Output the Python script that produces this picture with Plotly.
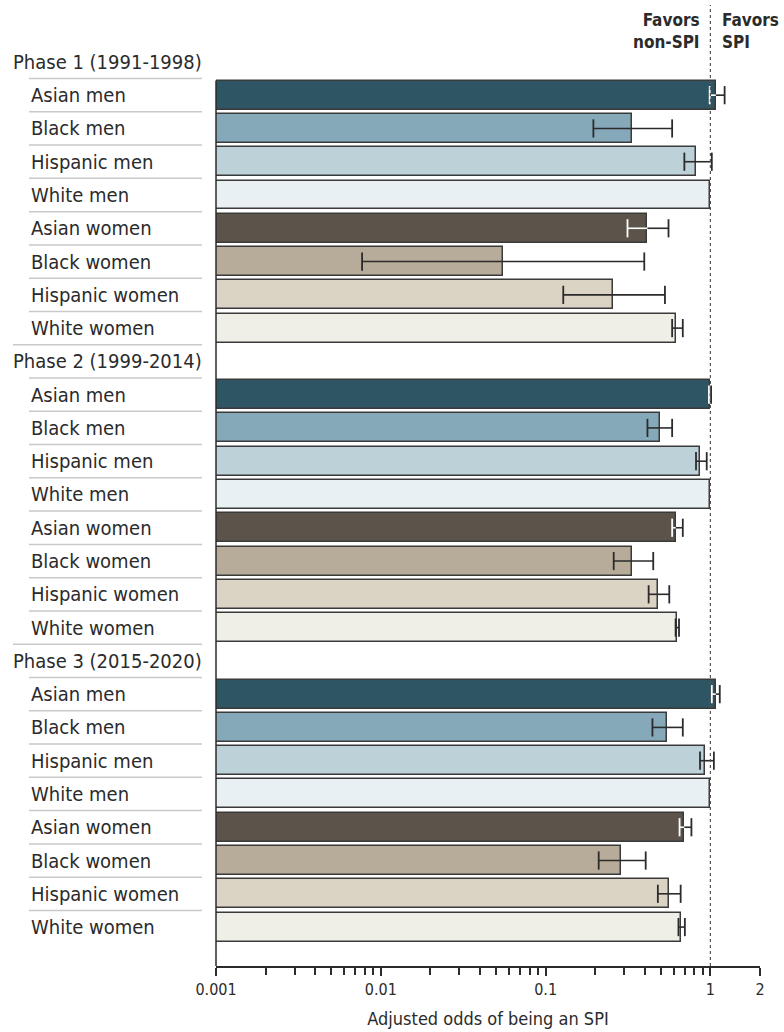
import math
import plotly.graph_objects as go

# Study phases and subgroups
phases = ["Phase 1 (1991-1998)", "Phase 2 (1999-2014)", "Phase 3 (2015-2020)"]
groups = ["Asian men", "Black men", "Hispanic men", "White men",
          "Asian women", "Black women", "Hispanic women", "White women"]

# Adjusted odds ratios (White men = reference) with 95% CI, one list per phase
odds_p1 = [1.08, 0.335, 0.818, 1.0, 0.415, 0.055, 0.256, 0.617]
lo_p1 = [0.99, 0.195, 0.695, None, 0.314, 0.0077, 0.128, 0.586]
hi_p1 = [1.22, 0.586, 1.02, None, 0.557, 0.397, 0.53, 0.68]

odds_p2 = [0.99, 0.494, 0.865, 1.0, 0.617, 0.335, 0.482, 0.631]
lo_p2 = [0.98, 0.415, 0.818, None, 0.586, 0.259, 0.422, 0.615]
hi_p2 = [1.01, 0.586, 0.95, None, 0.68, 0.45, 0.563, 0.645]

odds_p3 = [1.08, 0.543, 0.927, 1.0, 0.695, 0.288, 0.557, 0.664]
lo_p3 = [1.02, 0.445, 0.865, None, 0.65, 0.21, 0.48, 0.64]
hi_p3 = [1.14, 0.68, 1.05, None, 0.767, 0.405, 0.66, 0.70]

group_colors = ["#2e5564", "#85a9b8", "#bdd1d9", "#e8f0f3",
                "#5c544b", "#b7ac99", "#dbd3c4", "#efefe7"]
dark_groups = {"Asian men", "Asian women"}

tick_vals = [0.001, 0.01, 0.1, 1, 2]
tick_text = ["0.001", "0.01", "0.1", "1", "2"]
minor_vals = [m * 10 ** e for e in (-3, -2, -1) for m in range(2, 10)]

FONT = "Liberation Sans Narrow, DejaVu Sans Condensed, Roboto, sans-serif"
INK = "#2b2b2b"
AXIS_MIN = 0.001

phase_data = [(odds_p1, lo_p1, hi_p1), (odds_p2, lo_p2, hi_p2), (odds_p3, lo_p3, hi_p3)]

# Row layout: a header row per phase followed by its eight subgroup rows
rows = []  # (row index, label, is_header, group index, phase index)
r = 0
for p, ph in enumerate(phases):
    rows.append((r, ph, True, None, p))
    r += 1
    for g, name in enumerate(groups):
        rows.append((r, name, False, g, p))
        r += 1
n_rows = r

fig = go.Figure()

# Bars, one trace per subgroup so each keeps its own fill
for g, name in enumerate(groups):
    ys, xs = [], []
    for (ri, lab, hdr, gi, p) in rows:
        if not hdr and gi == g:
            ys.append(ri)
            xs.append(phase_data[p][0][g] - AXIS_MIN)
    fig.add_trace(go.Bar(
        y=ys, x=xs, base=[AXIS_MIN] * len(xs), orientation="h",
        marker=dict(color=group_colors[g], line=dict(color="#3a3a3a", width=1.5)),
        width=0.87, showlegend=False, hoverinfo="skip"))

# Confidence intervals; on dark bars the part inside the bar is drawn in white
dark_x, dark_y, white_x, white_y = [], [], [], []
cap_dark_x, cap_dark_y, cap_white_x, cap_white_y = [], [], [], []
for (ri, lab, hdr, gi, p) in rows:
    if hdr:
        continue
    est, lo, hi = phase_data[p][0][gi], phase_data[p][1][gi], phase_data[p][2][gi]
    if lo is None:
        continue
    if lab in dark_groups:
        white_x += [lo, est, None]
        white_y += [ri, ri, None]
        dark_x += [est, hi, None]
        dark_y += [ri, ri, None]
        cap_white_x.append(lo)
        cap_white_y.append(ri)
        cap_dark_x.append(hi)
        cap_dark_y.append(ri)
    else:
        dark_x += [lo, hi, None]
        dark_y += [ri, ri, None]
        cap_dark_x += [lo, hi]
        cap_dark_y += [ri, ri]

for lx, ly, cx, cy, col in [(white_x, white_y, cap_white_x, cap_white_y, "#ffffff"),
                            (dark_x, dark_y, cap_dark_x, cap_dark_y, "#2b2b2b")]:
    fig.add_trace(go.Scatter(x=lx, y=ly, mode="lines", line=dict(color=col, width=1.6),
                             showlegend=False, hoverinfo="skip"))
    fig.add_trace(go.Scatter(x=cx, y=cy, mode="markers",
                             marker=dict(symbol="line-ns", size=13,
                                         line=dict(color=col, width=1.8)),
                             showlegend=False, hoverinfo="skip"))

# Row labels and separators on the left
L = 216
PW = 784 - 24 - L


def px_to_paper(px):
    return (px - L) / PW


for (ri, lab, hdr, gi, p) in rows:
    fig.add_annotation(x=px_to_paper(11 if hdr else 29), xref="paper", y=ri, yref="y",
                       text=lab, showarrow=False, xanchor="left", yanchor="middle",
                       font=dict(family=FONT, size=20, color=INK))
    last = (ri == n_rows - 1)
    if not last:
        end_of_phase = (not hdr and gi == len(groups) - 1)
        fig.add_shape(type="line", xref="paper", yref="y",
                      x0=px_to_paper(13 if end_of_phase else 29), x1=px_to_paper(202),
                      y0=ri + 0.5, y1=ri + 0.5,
                      line=dict(color="#c9c9c9", width=1.5))

# Reference line at odds = 1 and the left axis spine
fig.add_shape(type="line", xref="x", yref="paper", x0=1, x1=1, y0=0, y1=1,
              line=dict(color="#555555", width=1.2, dash="dot"))
fig.add_shape(type="line", xref="paper", yref="y", x0=0, x1=0, y0=0.56, y1=n_rows - 1 + 1.17,
              line=dict(color="#2b2b2b", width=1.5))

# Direction labels above the plot
fig.add_annotation(x=math.log10(1), xref="x", xshift=-8, y=1, yref="paper", yanchor="top",
                   yshift=-3, text="<b>Favors<br>non-SPI</b>", showarrow=False,
                   xanchor="right", align="right",
                   font=dict(family=FONT, size=17, color=INK))
fig.add_annotation(x=math.log10(1), xref="x", xshift=10, y=1, yref="paper", yanchor="top",
                   yshift=-3, text="<b>Favors<br>SPI</b>", showarrow=False,
                   xanchor="left", align="left",
                   font=dict(family=FONT, size=17, color=INK))

fig.update_layout(
    width=784, height=1032,
    margin=dict(l=L, r=24, t=5, b=66),
    paper_bgcolor="white", plot_bgcolor="white",
    bargap=0,
    font=dict(family=FONT, size=15, color=INK),
    xaxis=dict(
        type="log", range=[math.log10(0.001), math.log10(2)],
        tickmode="array", tickvals=tick_vals, ticktext=tick_text,
        ticks="outside", ticklen=8, tickwidth=1.5, tickcolor="#2b2b2b",
        showline=True, linecolor="#2b2b2b", linewidth=1.5,
        showgrid=False, zeroline=False,
        tickfont=dict(family=FONT, size=16, color=INK),
        minor=dict(tickmode="array", tickvals=minor_vals, ticks="outside",
                   ticklen=7, tickwidth=1.5, tickcolor="#2b2b2b", showgrid=False),
        title=dict(text="Adjusted odds of being an SPI", standoff=14,
                   font=dict(family=FONT, size=18, color=INK)),
    ),
    yaxis=dict(range=[n_rows - 1 + 1.17, -1.71], showticklabels=False, showgrid=False,
               zeroline=False, showline=False, ticks=""),
)

fig.write_html("out.html")
